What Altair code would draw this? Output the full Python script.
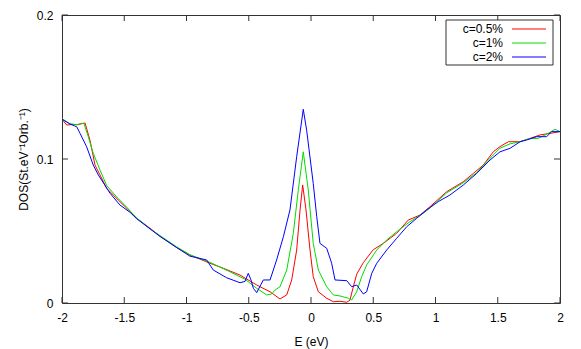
import altair as alt
import pandas as pd

SERIES = ["c=0.5%", "c=1%", "c=2%"]
COLORS = ["#ff0000", "#00dd00", "#0000ff"]
X_TICKS = [-2, -1.5, -1, -0.5, 0, 0.5, 1, 1.5, 2]
Y_TICKS = [0, 0.1, 0.2]

E_05 = [-2.000, -1.962, -1.909, -1.871, -1.829, -1.815, -1.775, -1.735, -1.695, -1.641,
        -1.548, -1.480, -1.400, -1.293, -1.213, -1.079, -0.972, -0.811, -0.704, -0.570,
        -0.436, -0.329, -0.249, -0.195, -0.155, -0.115, -0.088, -0.067, -0.040, -0.008,
        0.018, 0.059, 0.126, 0.179, 0.233, 0.287, 0.313, 0.340, 0.367, 0.420,
        0.500, 0.581, 0.688, 0.781, 0.876, 0.956, 1.090, 1.223, 1.304, 1.384,
        1.464, 1.518, 1.585, 1.679, 1.759, 1.839, 1.920, 2.000]
DOS_05 = [0.1276, 0.1236, 0.1240, 0.1238, 0.1248, 0.1250, 0.1130, 0.0958, 0.0889, 0.0796,
          0.0715, 0.0658, 0.0588, 0.0519, 0.0465, 0.0385, 0.0333, 0.0276, 0.0241, 0.0194,
          0.0125, 0.0078, 0.0028, 0.0056, 0.0160, 0.0368, 0.0646, 0.0820, 0.0646, 0.0368,
          0.0183, 0.0078, 0.0033, 0.0009, 0.0012, 0.0005, 0.0020, 0.0113, 0.0200, 0.0280,
          0.0370, 0.0414, 0.0484, 0.0576, 0.0611, 0.0669, 0.0773, 0.0842, 0.0900, 0.0958,
          0.1050, 0.1086, 0.1120, 0.1120, 0.1143, 0.1167, 0.1178, 0.1190]

E_1 = [-2.000, -1.936, -1.882, -1.842, -1.823, -1.789, -1.749, -1.695, -1.641, -1.548,
       -1.480, -1.400, -1.293, -1.213, -1.079, -0.972, -0.811, -0.651, -0.530, -0.436,
       -0.356, -0.315, -0.289, -0.249, -0.195, -0.142, -0.102, -0.062, -0.022, 0.018,
       0.059, 0.126, 0.179, 0.233, 0.300, 0.327, 0.367, 0.407, 0.447, 0.528,
       0.608, 0.688, 0.795, 0.902, 0.956, 1.090, 1.223, 1.331, 1.438, 1.518,
       1.598, 1.679, 1.759, 1.823, 1.888, 1.960, 2.000]
DOS_1 = [0.1280, 0.1245, 0.1238, 0.1248, 0.1245, 0.1155, 0.1040, 0.0924, 0.0815, 0.0725,
         0.0665, 0.0590, 0.0515, 0.0468, 0.0390, 0.0335, 0.0282, 0.0217, 0.0165, 0.0102,
         0.0056, 0.0063, 0.0090, 0.0113, 0.0229, 0.0484, 0.0785, 0.1050, 0.0785, 0.0414,
         0.0229, 0.0113, 0.0056, 0.0049, 0.0033, 0.0021, 0.0078, 0.0183, 0.0264, 0.0368,
         0.0438, 0.0495, 0.0565, 0.0623, 0.0660, 0.0765, 0.0835, 0.0905, 0.1005, 0.1075,
         0.1105, 0.1120, 0.1143, 0.1143, 0.1170, 0.1206, 0.1190]

E_2 = [-2.000, -1.936, -1.882, -1.855, -1.802, -1.749, -1.708, -1.614, -1.534, -1.454,
       -1.400, -1.293, -1.213, -1.079, -0.972, -0.838, -0.785, -0.677, -0.570, -0.530,
       -0.504, -0.482, -0.463, -0.436, -0.383, -0.329, -0.276, -0.222, -0.169, -0.115,
       -0.062, -0.035, 0.018, 0.046, 0.072, 0.126, 0.166, 0.193, 0.287, 0.327,
       0.367, 0.420, 0.447, 0.488, 0.528, 0.608, 0.688, 0.769, 0.849, 0.929,
       1.022, 1.116, 1.223, 1.331, 1.438, 1.518, 1.598, 1.679, 1.732, 1.813,
       1.893, 1.933, 2.000]
DOS_2 = [0.1276, 0.1243, 0.1224, 0.1178, 0.1085, 0.0958, 0.0889, 0.0762, 0.0680, 0.0630,
         0.0585, 0.0515, 0.0462, 0.0385, 0.0325, 0.0299, 0.0229, 0.0175, 0.0141, 0.0150,
         0.0206, 0.0160, 0.0102, 0.0072, 0.0160, 0.0160, 0.0299, 0.0460, 0.0646, 0.1016,
         0.1345, 0.1200, 0.0830, 0.0600, 0.0414, 0.0380, 0.0276, 0.0160, 0.0155, 0.0113,
         0.0125, 0.0063, 0.0078, 0.0206, 0.0276, 0.0368, 0.0449, 0.0530, 0.0588, 0.0646,
         0.0704, 0.0750, 0.0819, 0.0900, 0.0993, 0.1050, 0.1074, 0.1120, 0.1132, 0.1155,
         0.1155, 0.1190, 0.1190]

FONT = "Liberation Sans"
FRAME = "#333333"
W, H = 498, 288
TICK = 6

frames = []
for name, e, d in zip(SERIES, [E_05, E_1, E_2], [DOS_05, DOS_1, DOS_2]):
    frames.append(pd.DataFrame({"E": e, "DOS": d, "series": name}))
df = pd.concat(frames, ignore_index=True)

xs = alt.Scale(domain=[-2, 2], nice=False, zero=False)
ys = alt.Scale(domain=[0, 0.2], nice=False, zero=False)
color = alt.Color("series:N", scale=alt.Scale(domain=SERIES, range=COLORS), legend=None)

x_axis = alt.Axis(
    values=X_TICKS, title="E (eV)", labelExpr="'' + datum.value",
    labelFlush=False, labelOverlap=False, labelPadding=9,
    titleY=38, titleBaseline="middle")
y_axis = alt.Axis(
    values=Y_TICKS, title="DOS(St.eV⁻¹Orb.⁻¹)", labelExpr="'' + datum.value",
    labelFlush=False, labelOverlap=False, labelPadding=9,
    titleX=-39, titleY=H / 2, titleAngle=-90, titleBaseline="middle")

lines = alt.Chart(df).mark_line(strokeWidth=1, clip=True).encode(
    x=alt.X("E:Q", scale=xs, axis=x_axis),
    y=alt.Y("DOS:Q", scale=ys, axis=y_axis),
    color=color,
)

xt = pd.DataFrame({"E": X_TICKS})
yt = pd.DataFrame({"DOS": Y_TICKS})
bottom_ticks = alt.Chart(xt).mark_rule(color=FRAME, strokeWidth=1).encode(
    x=alt.X("E:Q", scale=xs, axis=x_axis), y=alt.value(H), y2=alt.value(H - TICK))
top_ticks = alt.Chart(xt).mark_rule(color=FRAME, strokeWidth=1).encode(
    x=alt.X("E:Q", scale=xs, axis=x_axis), y=alt.value(0), y2=alt.value(TICK))
left_ticks = alt.Chart(yt).mark_rule(color=FRAME, strokeWidth=1).encode(
    y=alt.Y("DOS:Q", scale=ys, axis=y_axis), x=alt.value(0), x2=alt.value(TICK))
right_ticks = alt.Chart(yt).mark_rule(color=FRAME, strokeWidth=1).encode(
    y=alt.Y("DOS:Q", scale=ys, axis=y_axis), x=alt.value(W), x2=alt.value(W - TICK))

leg = pd.DataFrame({"series": SERIES})
legend_box = alt.Chart(pd.DataFrame({"a": [0]})).mark_rect(
    fill="white", stroke=FRAME, strokeWidth=1).encode(
    x=alt.value(384), x2=alt.value(491), y=alt.value(5), y2=alt.value(50))

legend_layers = []
for i, name in enumerate(SERIES):
    row = alt.Chart(leg).transform_filter(alt.datum.series == name)
    legend_layers.append(row.mark_text(
        align="right", baseline="middle", fontSize=12, font=FONT, color="black").encode(
        x=alt.value(441), y=alt.value(14 + 14 * i), text="series:N"))
    legend_layers.append(row.mark_rule(strokeWidth=1).encode(
        x=alt.value(450), x2=alt.value(484), y=alt.value(14 + 14 * i), color=color))

chart = alt.layer(
    lines, bottom_ticks, top_ticks, left_ticks, right_ticks,
    legend_box, *legend_layers
).properties(
    width=W, height=H,
    autosize=alt.AutoSizeParams(type="none"),
    padding={"left": 54, "top": 7, "right": 10, "bottom": 46},
).configure_view(
    stroke=FRAME, strokeWidth=1
).configure_axis(
    domain=False, ticks=False, tickSize=0, grid=False,
    labelFont=FONT, labelFontSize=12, labelColor="black",
    titleFont=FONT, titleFontSize=12, titleFontWeight="normal", titleColor="black",
)

chart.save("out.html", embed_options={"renderer": "svg", "actions": False})
